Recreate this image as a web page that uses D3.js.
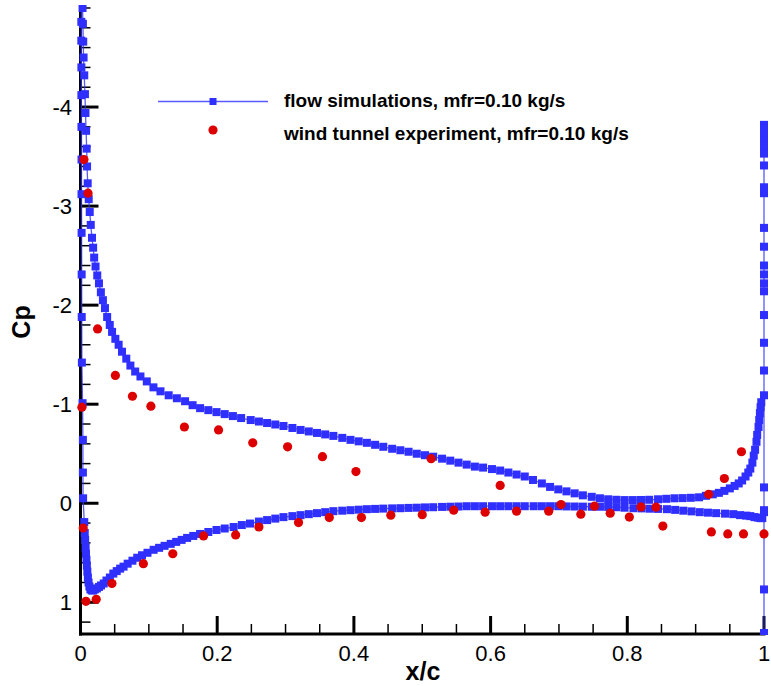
<!DOCTYPE html>
<html>
<head>
<meta charset="utf-8">
<script src="https://cdn.jsdelivr.net/npm/d3@7"></script>
<style>
  html, body { margin: 0; padding: 0; background: #fff; }
  svg { display: block; font-family: "Liberation Sans", Arial, sans-serif; }
</style>
</head>
<body>
<svg id="chart" width="771" height="686"></svg>
<script>
// Simulated Cp along the upper (suction) surface, leading edge -> trailing edge  [x/c, Cp]
const simUpper = [
  [0.0025,-5.25],[0.0030,-5.00],[0.0035,-4.84],[0.0040,-4.66],[0.0045,-4.50],[0.0055,-4.32],
  [0.0065,-4.13],[0.0073,-3.94],[0.0082,-3.76],[0.0090,-3.58],[0.0096,-3.40],[0.0105,-3.23],
  [0.0120,-3.07],[0.0135,-2.94],[0.0150,-2.81],[0.0168,-2.68],[0.0185,-2.58],[0.0200,-2.48],
  [0.0220,-2.39],[0.0245,-2.30],[0.0270,-2.22],[0.0298,-2.13],[0.0328,-2.05],[0.0358,-1.97],
  [0.0390,-1.88],[0.0428,-1.80],[0.0462,-1.73],[0.0510,-1.66],[0.0558,-1.60],[0.0607,-1.53],
  [0.0670,-1.46],[0.0730,-1.39],[0.0800,-1.33],[0.0877,-1.28],[0.0970,-1.23],[0.1067,-1.17],
  [0.1170,-1.13],[0.1290,-1.09],[0.1410,-1.06],[0.1530,-1.03],[0.1640,-0.99],[0.1750,-0.96],
  [0.1870,-0.94],[0.1990,-0.92],[0.2110,-0.90],[0.2230,-0.88],[0.2350,-0.86],[0.2490,-0.84],
  [0.2610,-0.825],[0.2730,-0.81],[0.2850,-0.795],[0.2970,-0.78],[0.3100,-0.76],[0.3220,-0.74],
  [0.3340,-0.725],[0.3460,-0.71],[0.3580,-0.695],[0.3700,-0.68],[0.3830,-0.66],[0.3950,-0.64],
  [0.4070,-0.625],[0.4190,-0.61],[0.4310,-0.59],[0.4430,-0.57],[0.4560,-0.55],[0.4680,-0.535],
  [0.4800,-0.52],[0.4920,-0.50],[0.5040,-0.485],[0.5160,-0.47],[0.5290,-0.45],[0.5410,-0.43],
  [0.5530,-0.41],[0.5650,-0.39],[0.5770,-0.37],[0.5890,-0.36],[0.6020,-0.345],[0.6140,-0.33],
  [0.6260,-0.31],[0.6380,-0.29],[0.6500,-0.27],[0.6620,-0.235],[0.6750,-0.20],[0.6870,-0.165],
  [0.6990,-0.14],[0.7110,-0.12],[0.7230,-0.10],[0.7350,-0.08],[0.7480,-0.065],[0.7600,-0.05],
  [0.7720,-0.04],[0.7840,-0.035],[0.7960,-0.032],[0.8080,-0.032],[0.8200,-0.033],[0.8320,-0.035],
  [0.8450,-0.04],[0.8570,-0.045],[0.8690,-0.05],[0.8810,-0.052],[0.8930,-0.055],[0.9050,-0.06],
  [0.9150,-0.075],[0.9250,-0.09],[0.9340,-0.105],[0.9420,-0.125],[0.9500,-0.15],[0.9570,-0.175],
  [0.9630,-0.20],[0.9680,-0.23],[0.9730,-0.27],[0.9770,-0.31],[0.9800,-0.35],[0.9830,-0.41],
  [0.9850,-0.48],[0.9870,-0.54],[0.9890,-0.62],[0.9900,-0.69],[0.9920,-0.77],[0.9930,-0.84],
  [0.9940,-0.91],[0.9950,-0.97],[0.9960,-1.02]
];

// Simulated Cp around the nose, from the suction peak down to the pressure-side minimum
const simNose = [
  [0.0012,-5.30],[0.0012,-4.86],[0.0012,-4.67],[0.0013,-4.40],[0.0013,-4.12],[0.0014,-3.80],
  [0.0015,-3.47],[0.0015,-3.12],[0.0016,-2.73],[0.0017,-2.31],[0.0018,-1.88],[0.0020,-1.42],
  [0.0030,-1.01],[0.0035,-0.64],[0.0035,-0.31],[0.0038,-0.05],[0.0055,0.19],[0.0062,0.30],
  [0.0068,0.37],[0.0075,0.45],[0.0080,0.51],[0.0087,0.57],[0.0093,0.63],[0.0100,0.69],
  [0.0108,0.75],[0.0118,0.80],[0.0130,0.84],[0.0145,0.87],[0.0165,0.88]
];

// Simulated Cp along the lower (pressure) surface, nose -> trailing edge
const simLower = [
  [0.0185,0.88],[0.0210,0.87],[0.0240,0.86],[0.0270,0.845],[0.0300,0.83],[0.0340,0.81],
  [0.0380,0.78],[0.0430,0.75],[0.0480,0.71],[0.0530,0.685],[0.0580,0.66],[0.0630,0.64],
  [0.0690,0.61],[0.0760,0.58],[0.0830,0.55],[0.0900,0.525],[0.0980,0.50],[0.1070,0.47],
  [0.1150,0.45],[0.1230,0.43],[0.1320,0.41],[0.1400,0.39],[0.1480,0.37],[0.1560,0.35],
  [0.1650,0.33],[0.1750,0.31],[0.1870,0.29],[0.1990,0.27],[0.2110,0.255],[0.2240,0.24],
  [0.2360,0.22],[0.2480,0.205],[0.2610,0.185],[0.2730,0.17],[0.2850,0.155],[0.2970,0.14],
  [0.3100,0.13],[0.3220,0.12],[0.3340,0.11],[0.3460,0.10],[0.3580,0.09],[0.3700,0.08],
  [0.3830,0.075],[0.3950,0.07],[0.4070,0.065],[0.4190,0.06],[0.4310,0.057],[0.4430,0.054],
  [0.4560,0.052],[0.4680,0.05],[0.4800,0.047],[0.4920,0.045],[0.5040,0.042],[0.5160,0.04],
  [0.5290,0.037],[0.5410,0.035],[0.5530,0.033],[0.5650,0.03],[0.5770,0.03],[0.5890,0.03],
  [0.6020,0.03],[0.6140,0.03],[0.6260,0.03],[0.6380,0.03],[0.6500,0.03],[0.6630,0.03],
  [0.6750,0.03],[0.6870,0.03],[0.6990,0.03],[0.7110,0.032],[0.7230,0.033],[0.7350,0.034],
  [0.7480,0.035],[0.7600,0.035],[0.7720,0.037],[0.7840,0.04],[0.7960,0.045],[0.8090,0.05],
  [0.8210,0.052],[0.8330,0.055],[0.8450,0.057],[0.8580,0.06],[0.8700,0.067],[0.8820,0.075],
  [0.8940,0.082],[0.9060,0.09],[0.9180,0.095],[0.9300,0.10],[0.9430,0.105],[0.9550,0.11],
  [0.9650,0.12],[0.9740,0.125],[0.9800,0.13],[0.9860,0.14],[0.9910,0.145],[0.9950,0.15],
  [0.9975,0.15],[1.0000,0.09]
];

// Simulated Cp on the blunt trailing-edge base (x/c = 1)
const simBaseX = 1.0;
const simBaseCp = [-3.82,-3.78,-3.74,-3.70,-3.66,-3.62,-3.58,-3.53,-3.41,-3.19,-3.13,-2.78,
  -2.59,-2.40,-2.31,-2.22,-2.14,-1.90,-1.62,-1.34,-1.09,-0.16,0.07,0.87,1.31,1.45];

// Wind tunnel pressure taps  [x/c, Cp]
const expUpper = [
  [0.005,-3.47],[0.011,-3.13],[0.025,-1.76],[0.051,-1.29],[0.076,-1.08],[0.103,-0.98],
  [0.152,-0.77],[0.202,-0.74],[0.252,-0.61],[0.303,-0.57],[0.354,-0.47],[0.403,-0.32],
  [0.513,-0.45],[0.614,-0.18],[0.703,0.013],[0.752,0.03],[0.820,0.037],[0.842,0.04],
  [0.919,-0.09],[0.942,-0.25],[0.967,-0.52]
];
const expLower = [
  [0.002,-0.97],[0.004,0.25],[0.008,0.99],[0.023,0.97],[0.046,0.81],[0.092,0.61],
  [0.135,0.51],[0.180,0.33],[0.227,0.32],[0.261,0.24],[0.319,0.195],[0.364,0.145],
  [0.411,0.145],[0.454,0.12],[0.500,0.115],[0.546,0.07],[0.592,0.09],[0.638,0.08],
  [0.685,0.08],[0.732,0.11],[0.775,0.10],[0.803,0.14],[0.852,0.23],[0.923,0.29],
  [0.947,0.31],[0.970,0.31],[1.000,0.31]
];

const xMajorTicks = [0, 0.2, 0.4, 0.6, 0.8, 1];
const xTickLabels = ["0", "0.2", "0.4", "0.6", "0.8", "1"];
const xMinorTicks = d3.range(0, 21).map(i => i * 0.05);
const yMajorTicks = [-4, -3, -2, -1, 0, 1];
const yTickLabels = ["-4", "-3", "-2", "-1", "0", "1"];
const yMinorTicks = d3.range(-25, 7).map(i => i * 0.2);

const legendLabels = ["flow simulations, mfr=0.10 kg/s", "wind tunnel experiment, mfr=0.10 kg/s"];

(function () {
  const BLUE = "#2f2fff";
  const RED = "#dc0000";

  const svg = d3.select("#chart");
  const pL = 80.5, pR = 764, pT = 6, pB = 634;

  const x = d3.scaleLinear().domain([0, 1]).range([pL, pR]);
  const y = d3.scaleLinear().domain([-5.02, 1.32]).range([pT, pB]);

  svg.append("defs").append("clipPath").attr("id", "plotclip")
    .append("rect").attr("x", 0).attr("y", pT - 1).attr("width", 771).attr("height", pB - pT + 2);

  // axes
  const axes = svg.append("g");
  const yMinorVis = yMinorTicks.filter(v => v >= -5.0 && v <= 1.3 && !yMajorTicks.some(m => Math.abs(m - v) < 1e-6));
  axes.selectAll(".ymin").data(yMinorVis).join("line")
    .attr("x1", pL).attr("x2", pL + 10)
    .attr("y1", d => y(d)).attr("y2", d => y(d))
    .attr("stroke", "#000").attr("stroke-width", 1.5);
  axes.selectAll(".ymaj").data(yMajorTicks).join("line")
    .attr("x1", pL).attr("x2", pL + 18)
    .attr("y1", d => y(d)).attr("y2", d => y(d))
    .attr("stroke", "#000").attr("stroke-width", 3);
  axes.selectAll(".ylab").data(yMajorTicks).join("text")
    .attr("x", 72).attr("y", d => y(d)).attr("dy", "0.36em")
    .attr("text-anchor", "end").attr("font-size", 22).attr("fill", "#000")
    .text((d, i) => yTickLabels[i]);

  const xMinorVis = xMinorTicks.filter(v => !xMajorTicks.some(m => Math.abs(m - v) < 1e-6));
  axes.selectAll(".xmin").data(xMinorVis).join("line")
    .attr("x1", d => x(d)).attr("x2", d => x(d))
    .attr("y1", pB).attr("y2", pB - 10)
    .attr("stroke", "#000").attr("stroke-width", 1.5);
  axes.selectAll(".xmaj").data(xMajorTicks).join("line")
    .attr("x1", d => x(d)).attr("x2", d => x(d))
    .attr("y1", pB).attr("y2", pB - 18)
    .attr("stroke", "#000").attr("stroke-width", 3);
  axes.selectAll(".xlab").data(xMajorTicks).join("text")
    .attr("x", d => x(d)).attr("y", 661)
    .attr("text-anchor", "middle").attr("font-size", 22).attr("fill", "#000")
    .text((d, i) => xTickLabels[i]);

  axes.append("line").attr("x1", pL).attr("x2", pL).attr("y1", pT).attr("y2", pB + 1.5)
    .attr("stroke", "#000").attr("stroke-width", 3);
  axes.append("line").attr("x1", pL - 1.5).attr("x2", pR + 1.5).attr("y1", pB).attr("y2", pB)
    .attr("stroke", "#000").attr("stroke-width", 3);

  svg.append("text").attr("x", 423).attr("y", 680).attr("text-anchor", "middle")
    .attr("font-size", 25).attr("font-weight", "bold").text("x/c");
  svg.append("text").attr("transform", "translate(30,322) rotate(-90)").attr("text-anchor", "middle")
    .attr("font-size", 25).attr("font-weight", "bold").text("Cp");

  // simulation curve
  const plot = svg.append("g").attr("clip-path", "url(#plotclip)");
  const surface = simUpper.slice().reverse().concat(simNose, simLower);
  const base = simBaseCp.map(c => [simBaseX, c]);
  const line = d3.line().x(d => x(d[0])).y(d => y(d[1]));

  plot.append("path").datum(surface).attr("d", line)
    .attr("fill", "none").attr("stroke", BLUE).attr("stroke-width", 1.3).attr("stroke-opacity", 0.8);
  plot.append("path").datum(base).attr("d", line)
    .attr("fill", "none").attr("stroke", BLUE).attr("stroke-width", 1.3).attr("stroke-opacity", 0.8);

  const M = 8;
  plot.selectAll(".sq").data(surface.concat(base)).join("rect")
    .attr("x", d => x(d[0]) - M / 2).attr("y", d => y(d[1]) - M / 2)
    .attr("width", M).attr("height", M).attr("fill", BLUE);

  // experiment
  plot.selectAll(".dot").data(expUpper.concat(expLower)).join("circle")
    .attr("cx", d => x(d[0])).attr("cy", d => y(d[1])).attr("r", 4.6).attr("fill", RED);

  // legend
  const lg = svg.append("g");
  lg.append("line").attr("x1", 158).attr("x2", 268).attr("y1", 101.5).attr("y2", 101.5)
    .attr("stroke", BLUE).attr("stroke-width", 1.3).attr("stroke-opacity", 0.8);
  lg.append("rect").attr("x", 213 - 3.5).attr("y", 101.5 - 3.5).attr("width", 7).attr("height", 7).attr("fill", BLUE);
  lg.append("circle").attr("cx", 213).attr("cy", 130).attr("r", 4.6).attr("fill", RED);
  lg.selectAll("text").data(legendLabels).join("text")
    .attr("x", 284).attr("y", (d, i) => 107 + i * 33)
    .attr("font-size", 19).attr("font-weight", "bold").attr("fill", "#000")
    .text(d => d);
})();
</script>
</body>
</html>
